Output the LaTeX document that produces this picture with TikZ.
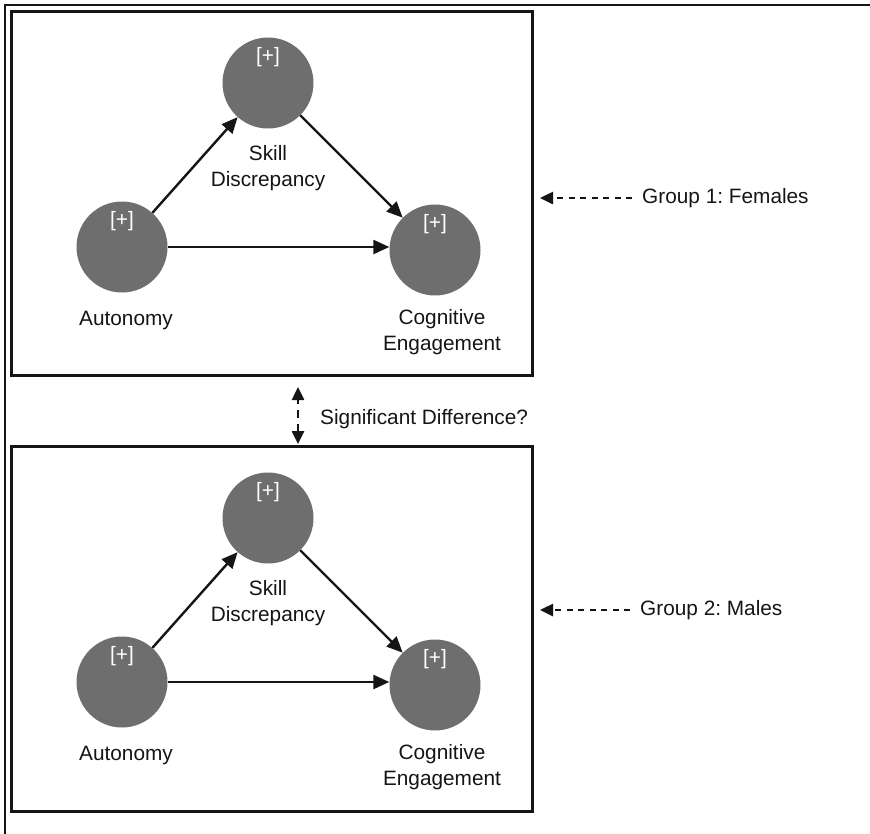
\documentclass[tikz,border=0pt]{standalone}
\usepackage{fontspec}
\setmainfont{Liberation Sans}
\usetikzlibrary{arrows.meta}
\definecolor{circgray}{HTML}{6E6E6E}
\definecolor{linek}{HTML}{151515}
\frenchspacing
\begin{document}
\begin{tikzpicture}[x=1pt,y=-1pt,
  every node/.style={font=\fontsize{20.8}{26}\selectfont},
  circ/.style={circle,fill=circgray,draw=none,minimum size=91pt,inner sep=0pt},
  plus/.style={text=white,inner sep=0pt},
  lbl/.style={align=center,inner sep=0pt,text=linek},
  path/.style={draw=linek,line width=2.4pt,-{Triangle[length=16pt,width=14pt]}},
  panel/.style={draw=linek,line width=3pt},
  dasharrow/.style={draw=linek,line width=2.5pt,dash pattern=on 6pt off 5.5pt,-{Triangle[length=13pt,width=12pt]}},
  ddarrow/.style={draw=linek,line width=2.5pt,dash pattern=on 8pt off 6pt,{Triangle[length=13pt,width=12pt]}-{Triangle[length=13pt,width=12pt]}}
]
\useasboundingbox (0,0) rectangle (870,833);
% outer frame (cropped)
\draw[draw=linek,line width=2.5pt] (5,840) -- (5,5) -- (880,5);
% panels
\draw[panel] (11,11) rectangle (532,375);
\draw[panel] (11,446) rectangle (532,811);
% ---- Group 1 ----
\node[circ] (s1) at (268,83) {};
\node[circ] (a1) at (122,247) {};
\node[circ] (c1) at (435,250) {};
\node[plus] at ([yshift=26pt]s1.center) {[+]};
\node[plus] at ([yshift=26pt]a1.center) {[+]};
\node[plus] at ([yshift=26pt]c1.center) {[+]};
\node[lbl] (s1l) at (268,168) {Skill\\Discrepancy};
\node[lbl] (a1l) at (126,320) {Autonomy};
\node[lbl] (c1l) at (442,332) {Cognitive\\Engagement};
\draw[path] (a1) -- (s1);
\draw[path] (s1) -- (c1);
\draw[path] (a1.east) -- (a1.east -| c1.west);
% ---- Group 2 ----
\node[circ] (s2) at (268,518) {};
\node[circ] (a2) at (122,682) {};
\node[circ] (c2) at (435,685) {};
\node[plus] at ([yshift=26pt]s2.center) {[+]};
\node[plus] at ([yshift=26pt]a2.center) {[+]};
\node[plus] at ([yshift=26pt]c2.center) {[+]};
\node[lbl] (s2l) at (268,603) {Skill\\Discrepancy};
\node[lbl] (a2l) at (126,755) {Autonomy};
\node[lbl] (c2l) at (442,767) {Cognitive\\Engagement};
\draw[path] (a2) -- (s2);
\draw[path] (s2) -- (c2);
\draw[path] (a2.east) -- (a2.east -| c2.west);
% ---- group labels ----
\node[lbl,anchor=west] (g1) at (642,198) {Group 1: Females};
\node[lbl,anchor=west] (g2) at (640,610) {Group 2: Males};
\coordinate (g1t) at (540,198);
\coordinate (g2t) at (540,610);
\draw[dasharrow] ([xshift=-10pt]g1.west) -- (g1t);
\draw[dasharrow] ([xshift=-10pt]g2.west) -- (g2t);
% ---- significant difference ----
\coordinate (dtop) at (298,387);
\coordinate (dbot) at (298,444);
\draw[ddarrow] (dbot) -- (dtop);
\node[lbl,anchor=west] (sig) at (320,419) {Significant Difference?};
\end{tikzpicture}
\end{document}
